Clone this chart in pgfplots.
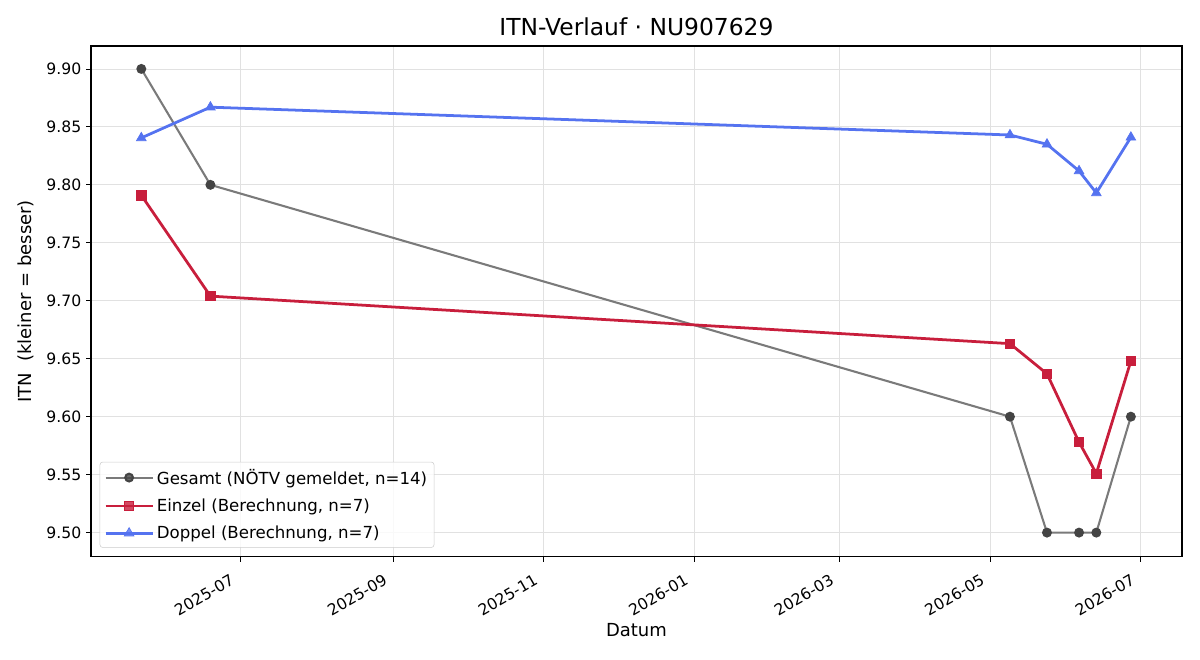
\documentclass[border=0pt]{standalone}
\usepackage{fontspec}
\setmainfont{DejaVu Sans}
\usepackage{pgfplots}
\pgfplotsset{compat=1.18}
\definecolor{gesline}{RGB}{122,122,122}
\definecolor{gesmark}{RGB}{68,68,68}
\definecolor{einz}{RGB}{200,30,60}
\definecolor{dopp}{RGB}{85,115,240}
\definecolor{gridc}{RGB}{225,225,225}
\pgfplotsset{mylegend/.style={legend image code/.code={\draw[mark repeat=2,mark phase=2] plot coordinates {(0bp,0bp) (17bp,0bp) (34bp,0bp)};}}}
\begin{document}
\begin{tikzpicture}
\useasboundingbox (0,0) rectangle (864bp,475.2bp);
\begin{axis}[
  at={(65.5bp,74.2bp)}, anchor=south west,
  scale only axis, width=785.5bp, height=367.9bp,
  xmin=-60.4, xmax=381.7, ymin=9.479, ymax=9.9198,
  xtick={0,62,123,184,243,304,365},
  xticklabels={2025-07,2025-09,2025-11,2026-01,2026-03,2026-05,2026-07},
  xticklabel style={xshift=-7.5bp, yshift=-8bp, rotate=30, anchor=north east, inner sep=0pt, font=\fontsize{11.3}{13}\selectfont},
  ytick={9.50,9.55,9.60,9.65,9.70,9.75,9.80,9.85,9.90},
  yticklabel style={font=\fontsize{11.3}{13}\selectfont},
  /pgf/number format/assume math mode=true,
  y tick label style={/pgf/number format/.cd, fixed, fixed zerofill, precision=2},
  tick align=outside, tick style={black, line width=0.6pt}, major tick length=3.5bp,
  xtick pos=bottom, ytick pos=left,
  grid=major, grid style={gridc, line width=0.6pt},
  axis line style={black, line width=0.8pt},
  title={ITN-Verlauf · NU907629},
  title style={font=\fontsize{16.9}{19}\selectfont, yshift=-2bp},
  xlabel={Datum}, ylabel={ITN\ \ (kleiner = besser)},
  xlabel style={font=\fontsize{13}{15}\selectfont, at={(axis description cs:0.5,-0.13)}, anchor=north, inner sep=0pt},
  ylabel style={font=\fontsize{13}{15}\selectfont, at={(axis description cs:-0.052,0.5)}, anchor=south, inner sep=0pt},
  legend style={at={(0.008,0.018)}, anchor=south west, draw=gray!40, rounded corners=2pt,
    fill=white, fill opacity=0.8, text opacity=1, font=\fontsize{12}{14}\selectfont,
    row sep=5bp, inner sep=3pt},
  legend cell align=left,
]
\addplot[mylegend, gesline, line width=1.5pt, mark=*, mark size=2.8bp, mark options={fill=gesmark, draw=gesmark}]
  coordinates {(-40,9.90) (-12,9.80) (312,9.60) (327,9.50) (340,9.50) (347,9.50) (361,9.60)};
\addlegendentry{Gesamt (NÖTV gemeldet, n=14)}
\addplot[mylegend, einz, line width=2pt, mark=square*, mark size=3.3bp, mark options={fill=einz, draw=einz, line width=0.5pt}]
  coordinates {(-40,9.791) (-12,9.704) (312,9.663) (327,9.637) (340,9.578) (347,9.551) (361,9.648)};
\addlegendentry{Einzel (Berechnung, n=7)}
\addplot[mylegend, dopp, line width=2pt, mark=triangle*, mark size=4bp, mark options={fill=dopp, draw=dopp, line width=0.5pt}]
  coordinates {(-40,9.8405) (-12,9.867) (312,9.843) (327,9.835) (340,9.812) (347,9.793) (361,9.841)};
\addlegendentry{Doppel (Berechnung, n=7)}
\end{axis}
\end{tikzpicture}
\end{document}
